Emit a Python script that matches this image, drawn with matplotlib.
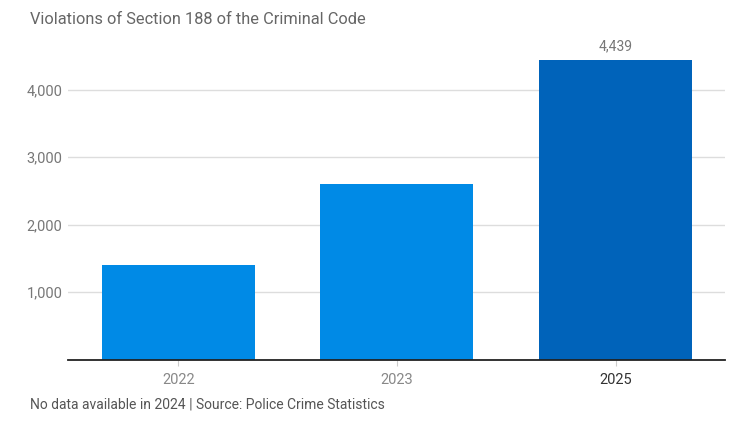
import matplotlib.pyplot as plt
from matplotlib.ticker import FuncFormatter

years = ["2022", "2023", "2025"]
counts = [1400, 2600, 4439]
bar_colors = ["#008ae6", "#008ae6", "#0063ba"]
yticks = [1000, 2000, 3000, 4000]

plt.rcParams["font.family"] = ["Roboto", "DejaVu Sans"]

fig = plt.figure(figsize=(7.48, 4.21), dpi=100)
ax = fig.add_axes([0.091, 0.146, 0.878, 0.7375])

x = range(len(years))
ax.bar(x, counts, width=0.7, color=bar_colors, zorder=3)

ax.set_xlim(-0.505, 2.5)
ax.set_ylim(0, 4600)
ax.set_yticks(yticks)
ax.yaxis.set_major_formatter(FuncFormatter(lambda v, p: f"{int(v):,}"))
ax.grid(axis="y", color="#dddddd", linewidth=1, zorder=0)

for s in ["top", "right", "left"]:
    ax.spines[s].set_visible(False)
ax.spines["bottom"].set_color("#222222")
ax.spines["bottom"].set_linewidth(1.3)
ax.spines["bottom"].set_zorder(4)

ax.tick_params(axis="y", length=0, pad=4, labelsize=10.5, labelcolor="#777777")
ax.tick_params(axis="x", length=4, color="#cccccc", pad=6, labelsize=10.5)
ax.set_xticks(list(x))
ax.set_xticklabels(years)
for lbl, c in zip(ax.get_xticklabels(), ["#888888", "#888888", "#333333"]):
    lbl.set_color(c)

# label only on the latest bar
ax.annotate(f"{counts[-1]:,}", (2, counts[-1]), xytext=(0, 5), textcoords="offset points",
            ha="center", va="bottom", fontsize=10, color="#777777")

fig.text(30 / 748, 1 - 20 / 421, "Violations of Section 188 of the Criminal Code",
         fontsize=11.8, color="#666666", va="center", ha="left")
fig.text(30 / 748, 1 - 405 / 421, "No data available in 2024 | Source: Police Crime Statistics",
         fontsize=10, color="#555555", va="center", ha="left")

plt.savefig("out.png", dpi=100)
